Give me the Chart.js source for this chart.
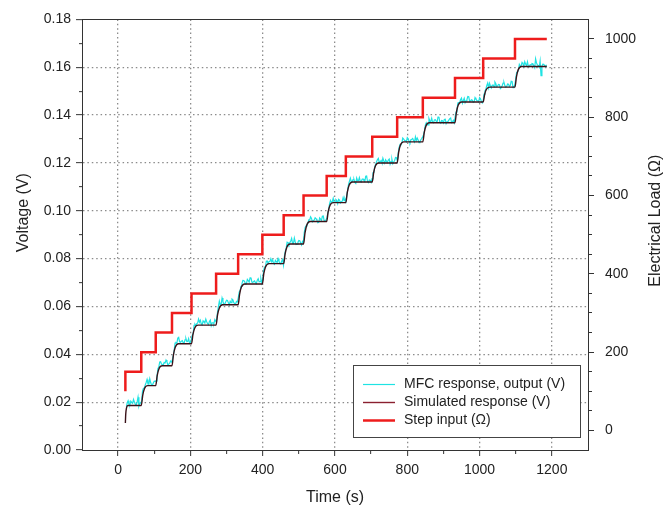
<!DOCTYPE html>
<html><head><meta charset="utf-8">
<script src="https://cdn.jsdelivr.net/npm/chart.js@4"></script>
<style>html,body{margin:0;padding:0;background:#fff;}#wrap{width:665px;height:513px;}</style>
</head><body><div id="wrap"><canvas id="c" width="665" height="513"></canvas></div>
<script>
// ---- data ----
const seriesLabels = ['MFC response, output (V)', 'Simulated response (V)', 'Step input (\u03A9)'];

// step input: initial value, switching times and the load held after each switch
const stepInitialTime = 20;
const stepInitialLoad = 100;
const stepTime = [20,64,104,149,203,271,332,399,458,513,577,630,703,772,843,932,1010,1098,1186];
const stepLoad = [150,200,250,300,350,400,450,500,550,600,650,700,750,800,850,900,950,1000];

// simulated response (V)
const simTime = [20,21,23,27, 64,68,73,82, 104,108,113,122, 149,153,158,167, 203,207,212,221,
  271,275,280,289, 332,336,341,350, 399,403,408,417, 458,462,467,476, 513,517,522,531,
  577,581,586,595, 630,634,639,648, 703,707,712,721, 772,776,781,790, 843,847,852,861,
  932,936,941,950, 1010,1014,1019,1028, 1098,1102,1107,1116, 1186];
const simVolt = [.0113,.0150,.0175,.0186, .0186,.0228,.0257,.0269, .0269,.0311,.0340,.0352,
  .0352,.0398,.0430,.0444, .0444,.0483,.0510,.0522, .0522,.0565,.0594,.0607, .0607,.0651,.0681,.0694,
  .0694,.0737,.0766,.0779, .0779,.0820,.0849,.0861, .0861,.0908,.0941,.0955, .0955,.0995,.1022,.1034,
  .1034,.1077,.1107,.1120, .1120,.1160,.1188,.1200, .1200,.1244,.1275,.1288, .1288,.1328,.1356,.1368,
  .1368,.1412,.1442,.1455, .1455,.1486,.1508,.1517, .1517,.1560,.1590,.1603, .1603];

// measured MFC output (V)
const mfcTime = [23,25,27.5,30,32.5,35,37.5,40,42.5,45,47.5,50,52.5,55,57.5,60,62.5,65,67.5,70,
  72.5,75,77.5,80,82.5,85,87.5,90,92.5,95,97.5,100,102.5,105,107.5,110,112.5,115,117.5,120,
  122.5,125,127.5,130,132.5,135,137.5,140,142.5,145,147.5,150,152.5,155,157.5,160,162.5,165,167.5,170,
  172.5,175,177.5,180,182.5,185,187.5,190,192.5,195,197.5,200,202.5,205,207.5,210,212.5,215,217.5,220,
  222.5,225,227.5,230,232.5,235,237.5,240,242.5,245,247.5,250,252.5,255,257.5,260,262.5,265,267.5,270,
  272.5,275,277.5,280,282.5,285,287.5,290,292.5,295,297.5,300,302.5,305,307.5,310,312.5,315,317.5,320,
  322.5,325,327.5,330,332.5,335,337.5,340,342.5,345,347.5,350,352.5,355,357.5,360,362.5,365,367.5,370,
  372.5,375,377.5,380,382.5,385,387.5,390,392.5,395,397.5,400,402.5,405,407.5,410,412.5,415,417.5,420,
  422.5,425,427.5,430,432.5,435,437.5,440,442.5,445,447.5,450,452.5,455,457.5,460,462.5,465,467.5,470,
  472.5,475,477.5,480,482.5,485,487.5,490,492.5,495,497.5,500,502.5,505,507.5,510,512.5,515,517.5,520,
  522.5,525,527.5,530,532.5,535,537.5,540,542.5,545,547.5,550,552.5,555,557.5,560,562.5,565,567.5,570,
  572.5,575,577.5,580,582.5,585,587.5,590,592.5,595,597.5,600,602.5,605,607.5,610,612.5,615,617.5,620,
  622.5,625,627.5,630,632.5,635,637.5,640,642.5,645,647.5,650,652.5,655,657.5,660,662.5,665,667.5,670,
  672.5,675,677.5,680,682.5,685,687.5,690,692.5,695,697.5,700,702.5,705,707.5,710,712.5,715,717.5,720,
  722.5,725,727.5,730,732.5,735,737.5,740,742.5,745,747.5,750,752.5,755,757.5,760,762.5,765,767.5,770,
  772.5,775,777.5,780,782.5,785,787.5,790,792.5,795,797.5,800,802.5,805,807.5,810,812.5,815,817.5,820,
  822.5,825,827.5,830,832.5,835,837.5,840,842.5,845,847.5,850,852.5,855,857.5,860,862.5,865,867.5,870,
  872.5,875,877.5,880,882.5,885,887.5,890,892.5,895,897.5,900,902.5,905,907.5,910,912.5,915,917.5,920,
  922.5,925,927.5,930,932.5,935,937.5,940,942.5,945,947.5,950,952.5,955,957.5,960,962.5,965,967.5,970,
  972.5,975,977.5,980,982.5,985,987.5,990,992.5,995,997.5,1000,1002.5,1005,1007.5,1010,1012.5,1015,1017.5,1020,
  1022.5,1025,1027.5,1030,1032.5,1035,1037.5,1040,1042.5,1045,1047.5,1050,1052.5,1055,1057.5,1060,1062.5,1065,1067.5,1070,
  1072.5,1075,1077.5,1080,1082.5,1085,1087.5,1090,1092.5,1095,1097.5,1100,1102.5,1105,1107.5,1110,1112.5,1115,1117.5,1120,
  1122.5,1125,1127.5,1130,1132.5,1135,1137.5,1140,1142.5,1145,1147.5,1150,1152.5,1155,1157.5,1160,1162.5,1165,1167.5,1170,
  1172.5,1175,1177.5,1180,1182.5,1185];
const mfcVolt = [.0180,.0198,.0206,.0191,.0187,.0204,.0199,.0195,.0211,.0200,.0192,.0188,.0201,.0221,.0184,.0196,.0196,.0205,.0247,.0258,
  .0259,.0272,.0282,.0295,.0276,.0275,.0298,.0282,.0271,.0272,.0281,.0288,.0287,.0289,.0307,.0340,.0347,.0368,.0369,.0359,
  .0357,.0356,.0366,.0364,.0376,.0369,.0355,.0359,.0363,.0372,.0368,.0376,.0393,.0416,.0447,.0449,.0447,.0468,.0471,.0452,
  .0450,.0455,.0457,.0449,.0446,.0460,.0466,.0453,.0454,.0466,.0448,.0450,.0461,.0480,.0487,.0521,.0526,.0520,.0528,.0531,
  .0547,.0534,.0542,.0527,.0523,.0540,.0535,.0531,.0547,.0536,.0528,.0524,.0537,.0543,.0520,.0532,.0532,.0529,.0545,.0538,
  .0545,.0576,.0600,.0622,.0607,.0610,.0635,.0620,.0609,.0610,.0619,.0626,.0625,.0615,.0607,.0622,.0616,.0631,.0628,.0616,
  .0612,.0611,.0621,.0619,.0637,.0661,.0666,.0684,.0695,.0709,.0708,.0704,.0693,.0695,.0713,.0708,.0702,.0720,.0721,.0702,
  .0700,.0705,.0707,.0699,.0696,.0710,.0716,.0703,.0704,.0716,.0698,.0713,.0750,.0765,.0765,.0789,.0790,.0780,.0788,.0789,
  .0800,.0787,.0795,.0780,.0776,.0793,.0788,.0784,.0800,.0789,.0781,.0777,.0790,.0796,.0773,.0810,.0830,.0844,.0869,.0867,
  .0858,.0867,.0874,.0885,.0864,.0863,.0886,.0870,.0859,.0860,.0869,.0876,.0875,.0865,.0857,.0872,.0866,.0909,.0930,.0937,
  .0943,.0948,.0962,.0962,.0975,.0968,.0954,.0958,.0962,.0971,.0967,.0961,.0950,.0952,.0970,.0965,.0959,.0977,.0978,.0959,
  .0957,.0962,.0970,.0989,.1004,.1030,.1043,.1035,.1038,.1052,.1034,.1036,.1047,.1043,.1030,.1048,.1045,.1033,.1039,.1040,
  .1055,.1042,.1050,.1038,.1062,.1087,.1110,.1124,.1136,.1122,.1122,.1130,.1131,.1118,.1114,.1137,.1126,.1126,.1139,.1123,
  .1120,.1132,.1133,.1127,.1123,.1144,.1145,.1122,.1118,.1129,.1128,.1119,.1134,.1159,.1160,.1184,.1194,.1205,.1214,.1219,
  .1201,.1205,.1210,.1200,.1220,.1208,.1199,.1213,.1207,.1203,.1212,.1216,.1195,.1206,.1215,.1197,.1204,.1210,.1223,.1222,
  .1208,.1241,.1265,.1277,.1276,.1284,.1304,.1300,.1294,.1293,.1288,.1306,.1301,.1290,.1284,.1297,.1299,.1302,.1293,.1287,
  .1309,.1294,.1304,.1296,.1285,.1289,.1297,.1302,.1309,.1317,.1334,.1358,.1368,.1360,.1359,.1385,.1374,.1374,.1387,.1371,
  .1368,.1380,.1381,.1375,.1371,.1392,.1393,.1370,.1366,.1377,.1376,.1367,.1382,.1383,.1364,.1372,.1373,.1379,.1385,.1388,
  .1369,.1373,.1378,.1368,.1394,.1413,.1423,.1451,.1452,.1453,.1465,.1471,.1450,.1461,.1470,.1452,.1459,.1465,.1478,.1477,
  .1457,.1459,.1464,.1462,.1453,.1456,.1473,.1467,.1461,.1460,.1455,.1473,.1468,.1457,.1451,.1460,.1488,.1501,.1508,.1524,
  .1534,.1514,.1533,.1523,.1514,.1525,.1526,.1518,.1538,.1531,.1519,.1522,.1528,.1527,.1511,.1515,.1523,.1534,.1536,.1523,
  .1517,.1520,.1530,.1529,.1520,.1524,.1542,.1541,.1515,.1519,.1525,.1552,.1578,.1581,.1587,.1612,.1605,.1607,.1620,.1614,
  .1604,.1623,.1613,.1608,.1623,.1603,.1602,.1611,.1610,.1616,.1615,.1606,.1598,.1635,.1618,.1609,.1607,.1600,.1626,.1565,
  .1605,.1613,.1612,.1607,.1601,.1610];

// axes ticks and titles
const xMajorTicks = [0,200,400,600,800,1000,1200];
const xMinorTicks = [100,300,500,700,900,1100];
const yMajorTicks = [0,0.02,0.04,0.06,0.08,0.10,0.12,0.14,0.16,0.18];
const yMinorTicks = [0.01,0.03,0.05,0.07,0.09,0.11,0.13,0.15,0.17];
const y2MajorTicks = [0,200,400,600,800,1000];
const y2MinorTicks = [50,100,150,250,300,350,450,500,550,650,700,750,850,900,950];
const xTitle = 'Time (s)';
const yTitle = 'Voltage (V)';
const y2Title = 'Electrical Load (\u03A9)';

// ---- build ----
const pts = (xs, ys) => xs.map((x, i) => ({x: x, y: ys[i]}));
const stepPts = [{x: stepInitialTime, y: stepInitialLoad}];
stepLoad.forEach((v, i) => { stepPts.push({x: stepTime[i], y: v}); stepPts.push({x: stepTime[i + 1], y: v}); });

const has = (arr, v) => arr.some(m => Math.abs(m - v) < 1e-9);
const setTicks = (major, minor) => (scale) => {
  scale.ticks = major.concat(minor).sort((a, b) => a - b).map(v => ({value: v}));
};
const FONT = "'Liberation Sans', Arial, Helvetica, sans-serif";
Chart.defaults.font.family = FONT;
Chart.defaults.color = '#222';

const AXIS = '#333';
const GRID = '#8c8c8c';
const TL = 6;

const boxLegend = {
  id: 'boxLegend',
  afterDatasetsDraw(chart) {
    const {ctx, chartArea} = chart;
    const w = 228, h = 73;
    const right = chartArea.right - 7, bottom = chartArea.bottom - 12;
    const left = right - w, top = bottom - h;
    ctx.save();
    ctx.fillStyle = '#fff';
    ctx.fillRect(left, top, w, h);
    ctx.strokeStyle = '#444'; ctx.lineWidth = 1;
    ctx.strokeRect(left + 0.5, top + 0.5, w - 1, h - 1);
    ctx.font = '14px ' + FONT; ctx.textBaseline = 'middle'; ctx.textAlign = 'left';
    chart.data.datasets.forEach((ds, i) => {
      const y = Math.round(top + 19 + i * 18) + 0.5;
      ctx.strokeStyle = ds.legendColor || ds.borderColor; ctx.lineWidth = ds.borderWidth;
      ctx.beginPath(); ctx.moveTo(left + 10, y); ctx.lineTo(left + 42, y); ctx.stroke();
      ctx.fillStyle = '#222';
      ctx.fillText(ds.label, left + 51, y);
    });
    ctx.restore();
  }
};
// vertical axis titles (both read bottom-to-top)
const sideTitles = {
  id: 'sideTitles',
  afterDraw(chart) {
    const {ctx, chartArea} = chart;
    const mid = (chartArea.top + chartArea.bottom) / 2;
    const items = [[yTitle, 24, mid - 22], [y2Title, 656, mid - 14]];
    ctx.save();
    ctx.font = '16px ' + FONT; ctx.fillStyle = '#222';
    ctx.textAlign = 'center'; ctx.textBaseline = 'middle';
    items.forEach(([t, x, y]) => {
      ctx.save(); ctx.translate(x, y); ctx.rotate(-Math.PI / 2); ctx.fillText(t, 0, 0); ctx.restore();
    });
    ctx.restore();
  }
};

new Chart(document.getElementById('c'), {
  type: 'line',
  data: {
    datasets: [
      {label: seriesLabels[0], data: pts(mfcTime, mfcVolt), yAxisID: 'y', borderColor: '#1fe3e3', borderWidth: 1.2, pointRadius: 0, order: 2},
      {label: seriesLabels[1], data: pts(simTime, simVolt), yAxisID: 'y', borderColor: '#3a1219', legendColor: '#8a2030', borderWidth: 1.4, pointRadius: 0, cubicInterpolationMode: 'monotone', order: 1},
      {label: seriesLabels[2], data: stepPts, yAxisID: 'y2', borderColor: '#ee1c1c', borderWidth: 2.5, pointRadius: 0, order: 0}
    ]
  },
  options: {
    responsive: false, animation: false, devicePixelRatio: 1,
    layout: {padding: 0},
    plugins: {legend: {display: false}, tooltip: {enabled: false}},
    scales: {
      x: {
        type: 'linear', position: 'bottom', min: -100, max: 1300,
        afterBuildTicks: setTicks(xMajorTicks, xMinorTicks),
        afterFit: (s) => { s.height = 63; },
        ticks: {autoSkip: false, maxRotation: 0, padding: 6, font: {size: 14}, color: '#222',
          callback: (v) => has(xMajorTicks, v) ? String(v) : ''},
        grid: {color: (c) => has(xMajorTicks, c.tick.value) ? GRID : 'rgba(0,0,0,0)', lineWidth: 1.3,
          tickLength: TL, tickColor: AXIS, tickWidth: 1,
          tickBorderDash: (c) => has(xMajorTicks, c.tick.value) ? [] : [3, 100]},
        border: {display: true, color: AXIS, width: 1, dash: [1.5, 2.9]},
        title: {display: true, text: xTitle, font: {size: 16}, color: '#222', padding: {top: 0, bottom: 6}}
      },
      x2: {
        type: 'linear', position: 'top', min: -100, max: 1300,
        afterFit: (s) => { s.height = 15; },
        ticks: {display: false}, grid: {display: false, drawTicks: false},
        border: {display: true, color: AXIS, width: 1}
      },
      y: {
        type: 'linear', position: 'left', min: 0, max: 0.18,
        afterBuildTicks: setTicks(yMajorTicks, yMinorTicks),
        afterFit: (s) => { s.width = 82; },
        ticks: {autoSkip: false, padding: 5, font: {size: 14}, color: '#222',
          callback: (v) => has(yMajorTicks, v) ? v.toFixed(2) : ''},
        grid: {color: (c) => (has(yMajorTicks, c.tick.value) && c.tick.value > 0 && c.tick.value < 0.18) ? GRID : 'rgba(0,0,0,0)', lineWidth: 1.3,
          tickLength: TL, tickColor: AXIS, tickWidth: 1,
          tickBorderDash: (c) => has(yMajorTicks, c.tick.value) ? [] : [0, TL - 3, 3, 100]},
        border: {display: true, color: AXIS, width: 1, dash: [1.5, 2.9]},
        title: {display: false, text: yTitle}
      },
      y2: {
        type: 'linear', position: 'right', min: -50, max: 1050,
        afterBuildTicks: setTicks(y2MajorTicks, y2MinorTicks),
        afterFit: (s) => { s.width = 77; },
        ticks: {autoSkip: false, padding: 11, font: {size: 14}, color: '#222',
          callback: (v) => has(y2MajorTicks, v) ? String(v) : ''},
        grid: {drawOnChartArea: false, tickLength: TL, tickColor: AXIS, tickWidth: 1,
          tickBorderDash: (c) => has(y2MajorTicks, c.tick.value) ? [] : [3, 100]},
        border: {display: true, color: AXIS, width: 1},
        title: {display: false, text: y2Title}
      }
    }
  },
  plugins: [boxLegend, sideTitles]
});
</script>
</body></html>
